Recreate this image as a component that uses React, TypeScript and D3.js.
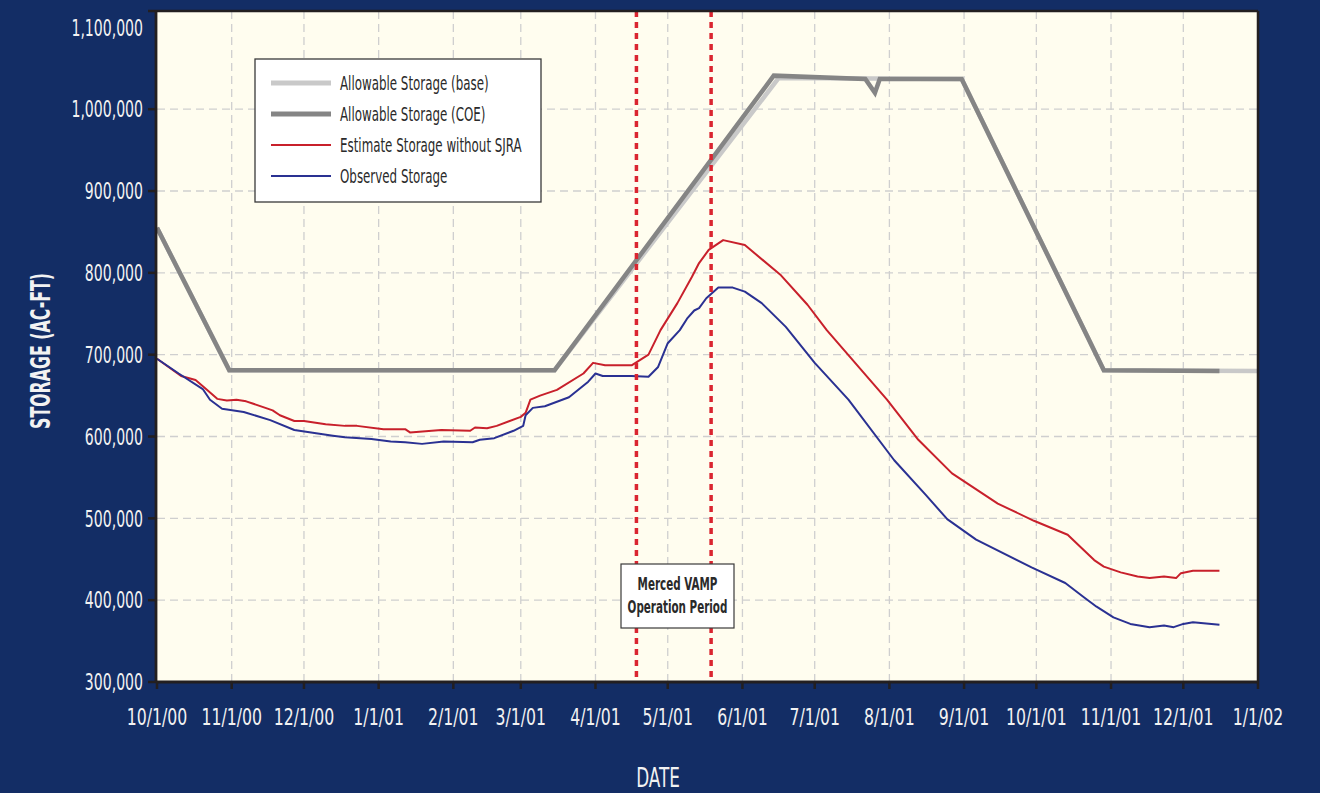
import * as d3 from "d3";
import type { ReactNode } from "react";

const W = 1320;
const H = 793;

// Allowable Storage (base)
const baseDates = ["2000-10-01", "2000-10-31", "2001-03-15", "2001-06-16", "2001-08-31", "2001-10-29", "2002-01-01"];
const baseValues = [855000, 681000, 681000, 1038000, 1037000, 681000, 680000];

// Allowable Storage (COE)
const coeDates = ["2000-10-01", "2000-10-31", "2001-03-15", "2001-06-14", "2001-07-22", "2001-07-26", "2001-07-28", "2001-08-31", "2001-10-29", "2001-12-16"];
const coeValues = [855000, 681000, 681000, 1041000, 1037000, 1020000, 1037000, 1037000, 681000, 680000];

// Estimate Storage without SJRA
const estDates = [
  "2000-10-01", "2000-10-11", "2000-10-17", "2000-10-21", "2000-10-26", "2000-10-30", "2000-11-03", "2000-11-07",
  "2000-11-10", "2000-11-15", "2000-11-18", "2000-11-21", "2000-11-27", "2000-12-01", "2000-12-10", "2000-12-18",
  "2000-12-23", "2001-01-03", "2001-01-12", "2001-01-14", "2001-01-27", "2001-02-08", "2001-02-10", "2001-02-15",
  "2001-02-19", "2001-03-01", "2001-03-03", "2001-03-05", "2001-03-09", "2001-03-16", "2001-03-27", "2001-03-31",
  "2001-04-05", "2001-04-16", "2001-04-23", "2001-04-28", "2001-05-05", "2001-05-11", "2001-05-14", "2001-05-18",
  "2001-05-24", "2001-06-02", "2001-06-17", "2001-06-28", "2001-07-06", "2001-07-31", "2001-08-13", "2001-08-27",
  "2001-09-15", "2001-09-30", "2001-10-14", "2001-10-19", "2001-10-25", "2001-10-29", "2001-11-05", "2001-11-12",
  "2001-11-17", "2001-11-23", "2001-11-28", "2001-11-30", "2001-12-05", "2001-12-16",
];
const estValues = [
  695000, 674000, 669000, 659000, 646000, 644000, 645000, 643000,
  640000, 635000, 632000, 626000, 619000, 619000, 615000, 613000,
  613000, 609000, 609000, 605000, 608000, 607000, 611000, 610000,
  613000, 624000, 629000, 645000, 650000, 657000, 677000, 690000,
  687000, 687000, 700000, 730000, 763000, 795000, 812000, 828000,
  840000, 834000, 797000, 761000, 730000, 645000, 596000, 555000,
  518000, 497000, 480000, 466000, 449000, 441000, 434000, 429000,
  427000, 429000, 427000, 433000, 436000, 436000,
];

// Observed Storage
const obsDates = [
  "2000-10-01", "2000-10-10", "2000-10-20", "2000-10-23", "2000-10-28", "2000-11-06", "2000-11-17", "2000-11-27",
  "2000-12-13", "2000-12-18", "2000-12-29", "2001-01-06", "2001-01-12", "2001-01-19", "2001-01-28", "2001-02-09",
  "2001-02-12", "2001-02-18", "2001-02-26", "2001-03-02", "2001-03-03", "2001-03-06", "2001-03-11", "2001-03-21",
  "2001-03-29", "2001-04-01", "2001-04-04", "2001-04-16", "2001-04-23", "2001-04-27", "2001-05-01", "2001-05-06",
  "2001-05-09", "2001-05-12", "2001-05-14", "2001-05-17", "2001-05-22", "2001-05-28", "2001-06-02", "2001-06-09",
  "2001-06-19", "2001-07-01", "2001-07-15", "2001-08-03", "2001-08-16", "2001-08-25", "2001-09-06",
  "2001-09-29", "2001-10-13", "2001-10-21", "2001-10-26", "2001-11-02", "2001-11-09", "2001-11-17", "2001-11-23",
  "2001-11-27", "2001-12-01", "2001-12-05", "2001-12-16",
];
const obsValues = [
  695000, 677000, 658000, 645000, 634000, 630000, 620000, 608000,
  601000, 599000, 597000, 594000, 593000, 591000, 594000, 593000,
  596000, 598000, 607000, 613000, 626000, 635000, 637000, 648000,
  667000, 677000, 674000, 674000, 673000, 685000, 714000, 730000,
  744000, 754000, 757000, 769000, 782000, 782000, 777000, 763000,
  734000, 690000, 645000, 571000, 529000, 499000, 474000,
  440000, 421000, 403000, 392000, 379000, 371000, 367000, 369000,
  367000, 371000, 373000, 370000,
];

const vampDates = ["2001-04-18", "2001-05-19"];

const yTicks = [300000, 400000, 500000, 600000, 700000, 800000, 900000, 1000000];
const yLabels = [300000, 400000, 500000, 600000, 700000, 800000, 900000, 1000000, 1100000];

const legendItems = [
  { label: "Allowable Storage (base)", color: "#c9c9c9", width: 5 },
  { label: "Allowable Storage (COE)", color: "#858585", width: 5 },
  { label: "Estimate Storage without SJRA", color: "#c8202b", width: 2 },
  { label: "Observed Storage", color: "#2a3192", width: 2 },
];

const FONT = "'DejaVu Sans Condensed', 'DejaVu Sans', sans-serif";
const parse = d3.timeParse("%Y-%m-%d");

// texte compressé horizontalement (police condensée façon Futura)
function SText(props: {
  x: number;
  y: number;
  sx: number;
  size: number;
  anchor?: string;
  weight?: string;
  fill: string;
  rotate?: number;
  children: ReactNode;
}) {
  const { x, y, sx, size, anchor = "start", weight = "normal", fill, rotate = 0, children } = props;
  return (
    <g transform={`translate(${x},${y}) rotate(${rotate}) scale(${sx},1)`}>
      <text dy="0.36em" textAnchor={anchor} fontSize={size} fontWeight={weight} fill={fill}>
        {children}
      </text>
    </g>
  );
}

export default function App() {
  const left = 157;
  const right = 1258;
  const top = 11;
  const bottom = 682;

  const x = d3
    .scaleTime()
    .domain([parse("2000-10-01")!, parse("2002-01-01")!])
    .range([left, right]);
  const y = d3.scaleLinear().domain([300000, 1120000]).range([bottom, top]);

  const months = d3.timeMonth.range(parse("2000-10-01")!, parse("2002-01-02")!);
  const fmtDate = d3.timeFormat("%-m/%-d/%y");
  const fmtNum = d3.format(",");

  const line = d3
    .line<[string, number]>()
    .x((d) => x(parse(d[0])!))
    .y((d) => y(d[1]));

  const series = (dates: string[], values: number[]) =>
    line(dates.map((d, i) => [d, values[i]] as [string, number])) || "";

  const white = "#f2f2f2";
  const ink = "#2a2a2a";

  return (
    <svg
      width={W}
      height={H}
      style={{ position: "absolute", left: 0, top: 0, display: "block" }}
      fontFamily={FONT}
    >
      <rect width={W} height={H} fill="#132d65" />
      <rect x={left} y={top} width={right - left} height={bottom - top} fill="#fffdef" />

      {/* grille */}
      {months.slice(1, -1).map((m, i) => (
        <line
          key={"gx" + i}
          x1={x(m)}
          x2={x(m)}
          y1={top}
          y2={bottom}
          stroke="#cfcfcf"
          strokeWidth={1.3}
          strokeDasharray="8,5"
        />
      ))}
      {yTicks.slice(1).map((v) => (
        <line
          key={"gy" + v}
          x1={left}
          x2={right}
          y1={y(v)}
          y2={y(v)}
          stroke="#cfcfcf"
          strokeWidth={1.3}
          strokeDasharray="8,5"
        />
      ))}

      {/* séries */}
      <path d={series(baseDates, baseValues)} fill="none" stroke="#c9c9c9" strokeWidth={4.5} />
      <path d={series(coeDates, coeValues)} fill="none" stroke="#858585" strokeWidth={4.5} />
      <path d={series(estDates, estValues)} fill="none" stroke="#c8202b" strokeWidth={2} strokeLinejoin="round" />
      <path d={series(obsDates, obsValues)} fill="none" stroke="#2a3192" strokeWidth={2} strokeLinejoin="round" />

      {/* période VAMP */}
      {vampDates.map((d) => (
        <line
          key={d}
          x1={x(parse(d)!)}
          x2={x(parse(d)!)}
          y1={top}
          y2={bottom}
          stroke="#da2530"
          strokeWidth={3.5}
          strokeDasharray="6,5"
        />
      ))}
      <rect x={621} y={564} width={113} height={64} fill="#ffffff" stroke="#3a3a3a" strokeWidth={1.2} />
      <SText x={677.5} y={584} sx={0.64} size={18} anchor="middle" weight="bold" fill={ink}>
        Merced VAMP
      </SText>
      <SText x={677.5} y={607} sx={0.64} size={18} anchor="middle" weight="bold" fill={ink}>
        Operation Period
      </SText>

      {/* cadre */}
      <line x1={148} x2={right} y1={top} y2={top} stroke="#231f20" strokeWidth={2.5} />
      <line x1={right} x2={right} y1={top} y2={bottom} stroke="#231f20" strokeWidth={2.5} />
      <line x1={left - 1} x2={left - 1} y1={top} y2={bottom + 1} stroke="#231f20" strokeWidth={2.8} />
      <line x1={left - 1} x2={right} y1={bottom} y2={bottom} stroke="#231f20" strokeWidth={2.8} />

      {/* axe Y */}
      {yTicks.map((v) => (
        <line key={"ty" + v} x1={148} x2={left} y1={y(v)} y2={y(v)} stroke="#231f20" strokeWidth={2.5} />
      ))}
      {yLabels.map((v) => (
        <SText key={"ly" + v} x={143} y={y(v)} sx={0.68} size={23} anchor="end" fill={white}>
          {fmtNum(v)}
        </SText>
      ))}

      {/* axe X */}
      {months.map((m, i) => (
        <line key={"tx" + i} x1={x(m)} x2={x(m)} y1={bottom} y2={bottom + 7} stroke="#231f20" strokeWidth={2.5} />
      ))}
      {months.map((m, i) => (
        <SText key={"lx" + i} x={x(m)} y={717} sx={0.76} size={23} anchor="middle" fill={white}>
          {fmtDate(m)}
        </SText>
      ))}

      <SText x={658} y={778} sx={0.72} size={26} anchor="middle" fill={white}>
        DATE
      </SText>
      <SText x={40} y={351} rotate={-90} sx={0.65} size={27} anchor="middle" weight="bold" fill={white}>
        STORAGE (AC-FT)
      </SText>

      {/* légende */}
      <rect x={255} y={59} width={286} height={143} fill="#ffffff" stroke="#3a3a3a" strokeWidth={1.3} />
      {legendItems.map((it, i) => (
        <g key={it.label} transform={`translate(0,${83 + i * 31})`}>
          <line x1={271} x2={331} y1={0} y2={0} stroke={it.color} strokeWidth={it.width} />
          <SText x={340} y={0} sx={0.66} size={20} fill={ink}>
            {it.label}
          </SText>
        </g>
      ))}
    </svg>
  );
}
